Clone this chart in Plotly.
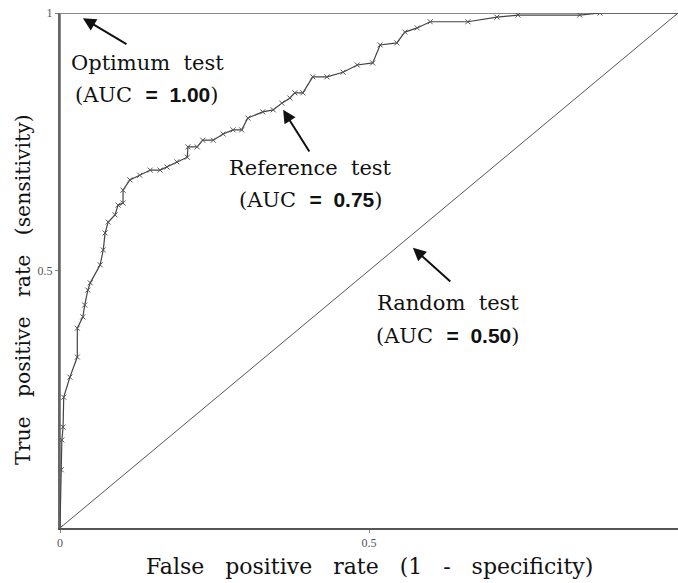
import plotly.graph_objects as go

# Reference test ROC curve
fpr = [0.0, 0.002, 0.003, 0.005, 0.006, 0.016, 0.028, 0.028, 0.037, 0.040, 0.045, 0.049,
       0.065, 0.070, 0.073, 0.078, 0.089, 0.094, 0.102, 0.102, 0.113, 0.129, 0.146, 0.162,
       0.173, 0.189, 0.206, 0.207, 0.222, 0.231, 0.248, 0.264, 0.280, 0.294, 0.304, 0.328,
       0.345, 0.359, 0.372, 0.380, 0.393, 0.409, 0.432, 0.458, 0.481, 0.506, 0.518, 0.545,
       0.558, 0.578, 0.599, 0.660, 0.707, 0.741, 0.841, 0.874, 1.0]
tpr = [0.0, 0.113, 0.171, 0.196, 0.254, 0.293, 0.332, 0.388, 0.410, 0.433, 0.462, 0.476,
       0.511, 0.540, 0.573, 0.594, 0.608, 0.627, 0.631, 0.656, 0.676, 0.685, 0.695, 0.695,
       0.701, 0.711, 0.720, 0.740, 0.740, 0.753, 0.753, 0.765, 0.773, 0.773, 0.796, 0.808,
       0.812, 0.825, 0.835, 0.845, 0.845, 0.876, 0.876, 0.885, 0.899, 0.903, 0.938, 0.942,
       0.963, 0.971, 0.983, 0.983, 0.992, 0.996, 0.996, 1.0, 1.0]

# Optimum and random tests
opt_x = [0, 0, 1]
opt_y = [0, 1, 1]
rand_x = [0, 1]
rand_y = [0, 1]

x_ticks = [0, 0.5]
x_ticklabels = ["0", "0.5"]
y_ticks = [0.5, 1]
y_ticklabels = ["0.5", "1"]

names = ["Optimum test", "Reference test", "Random test"]
aucs = ["1.00", "0.75", "0.50"]

x_title = "False positive rate (1 - specificity)"
y_title = "True positive rate (sensitivity)"

SERIF = "DejaVu Serif"
SANS = "Liberation Sans"


def spaced(s, n):
    return s.replace(" ", " " + "&nbsp;" * n)


fig = go.Figure()
fig.add_trace(go.Scatter(x=opt_x, y=opt_y, mode="lines",
                         line=dict(color="#8a8a8a", width=2), hoverinfo="skip"))
fig.add_trace(go.Scatter(x=rand_x, y=rand_y, mode="lines",
                         line=dict(color="#555555", width=1), hoverinfo="skip"))
fig.add_trace(go.Scatter(x=fpr, y=tpr, mode="lines+markers",
                         line=dict(color="#444444", width=1.2),
                         marker=dict(symbol="x-thin", size=5,
                                     line=dict(color="#555555", width=1))))

ann = []
# arrows: (head_x, head_y, tail_x, tail_y)
arrows = [(0.037, 0.990, 0.110, 0.938),
          (0.361, 0.812, 0.405, 0.728),
          (0.571, 0.544, 0.634, 0.476)]
for hx, hy, tx, ty in arrows:
    ann.append(dict(x=hx, y=hy, ax=tx, ay=ty, xref="x", yref="y", axref="x", ayref="y",
                    showarrow=True, arrowhead=2, arrowsize=1.3, arrowwidth=2,
                    arrowcolor="#111111", text=""))

label_pos = [(0.141, 0.903, 0.841),
             (0.406, 0.699, 0.637),
             (0.628, 0.437, 0.373)]
for name, auc, (lx, y1, y2) in zip(names, aucs, label_pos):
    ann.append(dict(x=lx, y=y1, xref="x", yref="y", text=spaced(name, 1), showarrow=False,
                    font=dict(family=SERIF, size=21, color="#111111")))
    t2 = ("(AUC&nbsp;&nbsp;<span style='font-family:" + SANS + "'><b>=</b>&nbsp;&nbsp;"
          "<b>" + auc + "</b></span>)")
    ann.append(dict(x=lx, y=y2, xref="x", yref="y", text=t2, showarrow=False,
                    font=dict(family=SERIF, size=21, color="#111111")))

ann.append(dict(x=0.5, xref="paper", y=-0.0757, yref="paper", yanchor="middle",
                text=spaced(x_title, 2), showarrow=False,
                font=dict(family=SERIF, size=22, color="#111111")))
ann.append(dict(x=-0.060, xref="paper", xanchor="center", y=0.464, yref="paper",
                yanchor="middle", textangle=-90, text=spaced(y_title, 2), showarrow=False,
                font=dict(family=SERIF, size=20.4, color="#111111")))

fig.update_layout(
    width=678, height=583,
    margin=dict(l=60, r=0, t=13, b=55),
    plot_bgcolor="white", paper_bgcolor="white",
    showlegend=False,
    annotations=ann,
    xaxis=dict(range=[0, 1], tickvals=x_ticks, ticktext=x_ticklabels,
               showgrid=False, zeroline=False, showline=True, linecolor="#555555",
               linewidth=2, ticks="outside", ticklen=3, tickcolor="#888888",
               tickfont=dict(family="Liberation Sans Narrow", size=12, color="#555555")),
    yaxis=dict(range=[0, 1], tickvals=y_ticks, ticktext=y_ticklabels,
               showgrid=False, zeroline=False, showline=True, linecolor="#666666",
               linewidth=2, ticks="outside", ticklen=3, tickcolor="#888888",
               tickfont=dict(family="Liberation Sans Narrow", size=12, color="#555555")),
)

fig.write_html("out.html")
